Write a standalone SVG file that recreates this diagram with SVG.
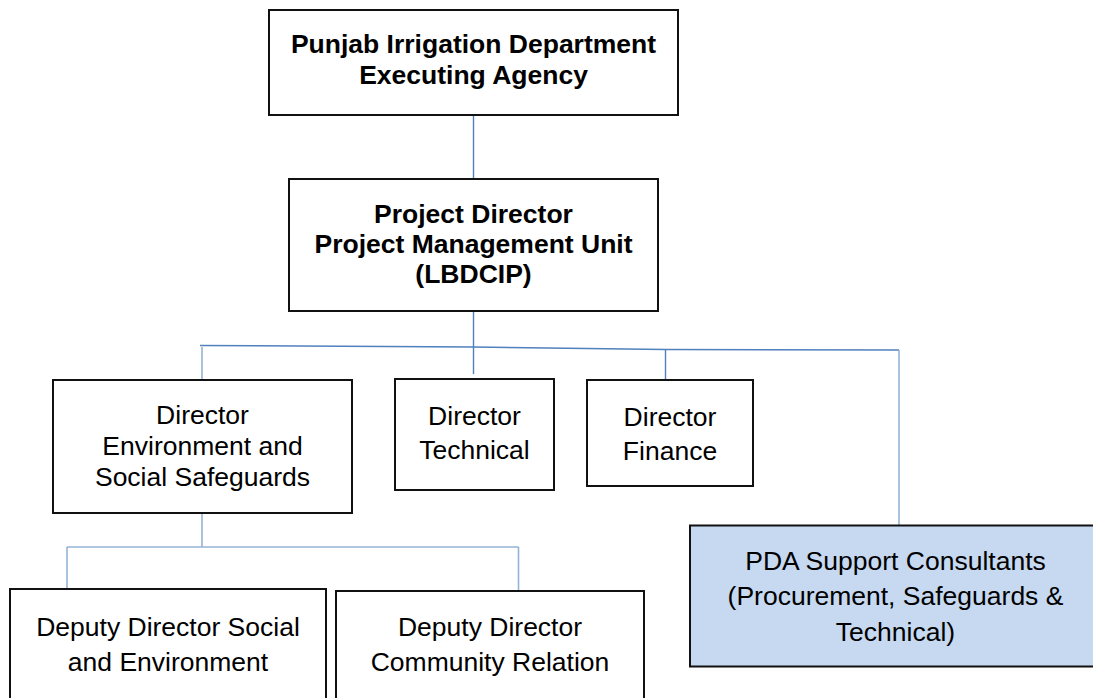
<svg xmlns="http://www.w3.org/2000/svg" width="1093" height="698" viewBox="0 0 1093 698">
  <style>
    .box { fill: #ffffff; stroke: #111111; stroke-width: 2; }
    .box.blue { fill: #c6d9f0; }
    .lbl { font-family: "Liberation Sans", Arial, sans-serif; font-size: 26.5px; fill: #000000; text-anchor: middle; }
    .lbl.b { font-weight: bold; }
    .wire { fill: none; stroke: #4f81bd; stroke-width: 1.4; }
    .wire.lt { stroke: #95b3d7; stroke-width: 1.6; }
  </style>
  <rect width="1093" height="698" fill="#ffffff"/>

  <!-- reporting lines -->
  <g id="connectors">
    <line class="wire" x1="473.5" y1="115" x2="473.5" y2="179"/>
    <line class="wire" x1="473.5" y1="311" x2="473.5" y2="374"/>
    <polyline class="wire" points="200,345.5 473.5,347 665,349.5 899,350"/>
    <line class="wire lt" x1="202" y1="347" x2="202" y2="379"/>
    <line class="wire" x1="665.5" y1="349.5" x2="665.5" y2="380"/>
    <line class="wire lt" x1="899" y1="350" x2="899" y2="525"/>
    <line class="wire lt" x1="202" y1="513" x2="202" y2="547"/>
    <line class="wire lt" x1="67" y1="547" x2="518.5" y2="547"/>
    <line class="wire lt" x1="67" y1="547" x2="67" y2="589"/>
    <line class="wire lt" x1="518.5" y1="547" x2="518.5" y2="590"/>
  </g>

  <g id="executing-agency">
    <rect class="box" x="269" y="10" width="409" height="105"/>
    <text class="lbl b" x="473.5" y="53">Punjab Irrigation Department</text>
    <text class="lbl b" x="473.5" y="84">Executing Agency</text>
  </g>

  <g id="project-director">
    <rect class="box" x="289" y="179" width="369" height="132"/>
    <text class="lbl b" x="473.5" y="223">Project Director</text>
    <text class="lbl b" x="473.5" y="253">Project Management Unit</text>
    <text class="lbl b" x="473.5" y="283">(LBDCIP)</text>
  </g>

  <g id="director-env-social">
    <rect class="box" x="53" y="380" width="299" height="133"/>
    <text class="lbl" x="202.5" y="424">Director</text>
    <text class="lbl" x="202.5" y="455">Environment and</text>
    <text class="lbl" x="202.5" y="486">Social Safeguards</text>
  </g>

  <g id="director-technical">
    <rect class="box" x="395" y="379" width="159" height="111"/>
    <text class="lbl" x="474.5" y="425">Director</text>
    <text class="lbl" x="474.5" y="459">Technical</text>
  </g>

  <g id="director-finance">
    <rect class="box" x="587" y="380" width="166" height="106"/>
    <text class="lbl" x="670" y="426">Director</text>
    <text class="lbl" x="670" y="460">Finance</text>
  </g>

  <g id="pda-support-consultants">
    <rect class="box blue" x="690" y="525.5" width="411" height="141"/>
    <text class="lbl" x="895.5" y="570">PDA Support Consultants</text>
    <text class="lbl" x="895.5" y="605">(Procurement, Safeguards &amp;</text>
    <text class="lbl" x="895.5" y="641">Technical)</text>
  </g>

  <g id="deputy-director-social-env">
    <rect class="box" x="10" y="589" width="316" height="130"/>
    <text class="lbl" x="168" y="636">Deputy Director Social</text>
    <text class="lbl" x="168" y="671">and Environment</text>
  </g>

  <g id="deputy-director-community">
    <rect class="box" x="336" y="591" width="308" height="130"/>
    <text class="lbl" x="490" y="636">Deputy Director</text>
    <text class="lbl" x="490" y="671">Community Relation</text>
  </g>
</svg>
